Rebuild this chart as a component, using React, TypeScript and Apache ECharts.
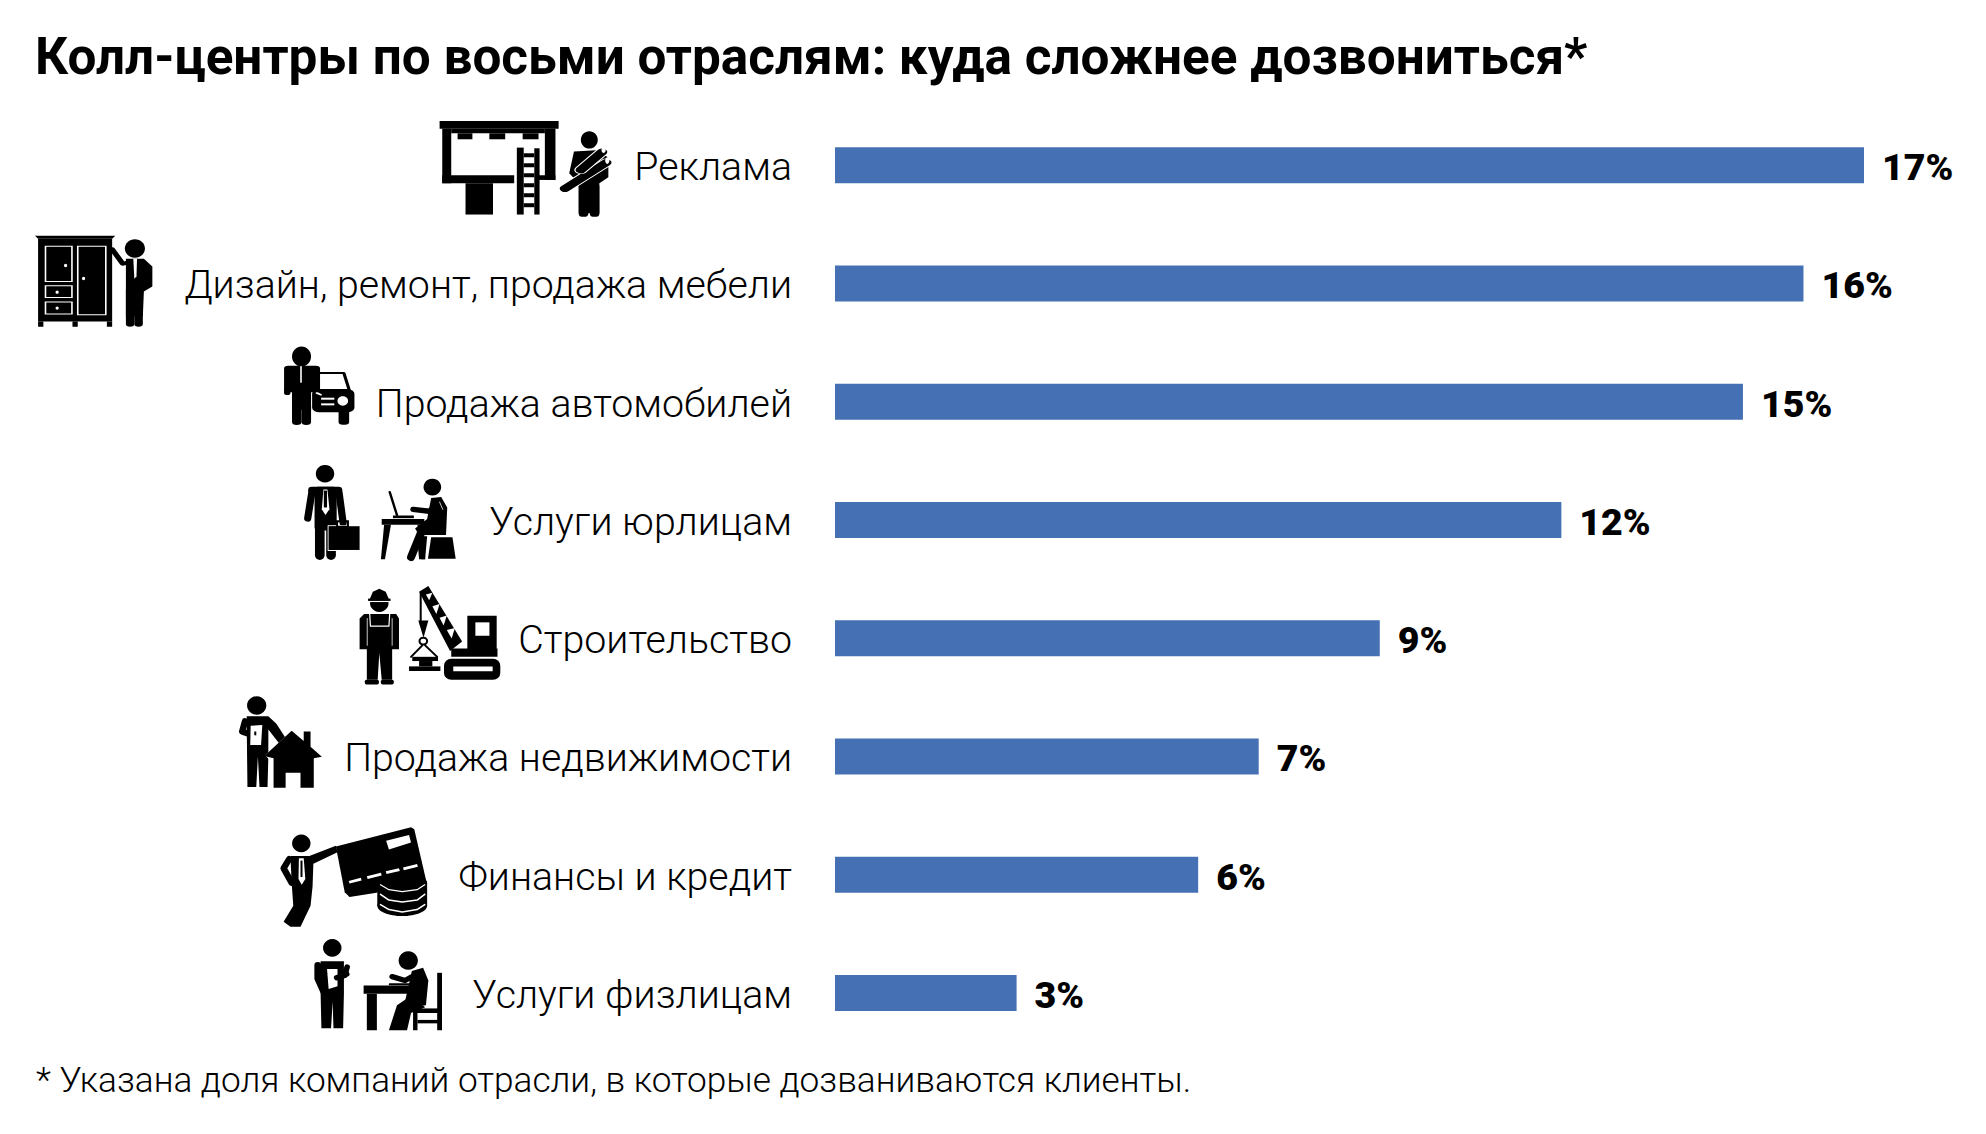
import React, { useEffect, useRef } from "react";
import * as echarts from "echarts";

const categories = [
  "Реклама",
  "Дизайн, ремонт, продажа мебели",
  "Продажа автомобилей",
  "Услуги юрлицам",
  "Строительство",
  "Продажа недвижимости",
  "Финансы и кредит",
  "Услуги физлицам",
];
const shares = [17, 16, 15, 12, 9, 7, 6, 3];
const titleText = "Колл-центры по восьми отраслям: куда сложнее дозвониться*";
const noteText = "* Указана доля компаний отрасли, в которые дозваниваются клиенты.";

const B = "#000";
const W = "#fff";
const c = (cx: number, cy: number, r: number, fill = B) => ({ type: "circle", shape: { cx, cy, r }, style: { fill } });
const e = (cx: number, cy: number, rx: number, ry: number, fill = B) => ({ type: "ellipse", shape: { cx, cy, rx, ry }, style: { fill } });
const r = (x0: number, y0: number, x1: number, y1: number, fill = B, rad = 0) => ({
  type: "rect",
  shape: { x: x0, y: y0, width: x1 - x0, height: y1 - y0, r: rad },
  style: { fill },
});
const box = (x0: number, y0: number, x1: number, y1: number, stroke = W, lineWidth = 3, rad = 0) => ({
  type: "rect",
  shape: { x: x0, y: y0, width: x1 - x0, height: y1 - y0, r: rad },
  style: { fill: "none", stroke, lineWidth },
});
const p = (points: number[][], fill = B) => ({ type: "polygon", shape: { points }, style: { fill } });
const l = (points: number[][], lineWidth: number, stroke = B) => ({
  type: "polyline",
  shape: { points },
  style: { fill: "none", stroke, lineWidth, lineCap: "round", lineJoin: "round" },
});

const billboard = [
  r(831, 93, 1056, 116),
  r(836, 116, 853, 280),
  r(836, 256, 972, 280),
  r(1030, 116, 1050, 270),
  r(1018, 256, 1050, 270),
  r(853, 116, 1030, 130),
  r(865, 130, 893, 148),
  r(925, 130, 955, 148),
  r(988, 130, 1018, 148),
  r(880, 280, 932, 374),
  r(977, 173, 990, 374),
  r(1010, 175, 1020, 374),
  ...[190, 220, 250, 280, 310, 340].map((y) => r(990, y, 1010, y + 12)),
  e(1114, 150, 16, 26),
  p([[1085, 185], [1135, 180], [1150, 205], [1150, 262], [1133, 280], [1133, 370], [1094, 370], [1094, 280], [1076, 250]]),
  l([[1103, 290], [1103, 372]], 18),
  l([[1124, 290], [1124, 372]], 18),
  l([[1068, 296], [1146, 218]], 25, W),
  l([[1068, 296], [1146, 218]], 20),
  l([[1098, 240], [1138, 186]], 25, W),
  l([[1098, 240], [1138, 186]], 20),
  e(1148, 212, 4, 10, W),
  e(1141, 180, 4, 9, W),
];

const wardrobe = [
  p([[66, 438], [218, 438], [212, 447], [72, 447]]),
  r(72, 447, 212, 695),
  r(72, 695, 82, 711),
  r(137, 695, 147, 711),
  r(202, 695, 212, 711),
  box(86, 469, 136, 575),
  box(147, 469, 200, 675),
  box(86, 588, 136, 623),
  box(86, 637, 136, 673),
  e(124, 527, 3, 5, W),
  e(158, 566, 3, 5, W),
  e(108, 607, 3, 5, W),
  e(108, 655, 3, 5, W),
  e(255, 476, 19, 28),
  l([[212, 478], [232, 522], [250, 515]], 11),
  p([[238, 507], [272, 507], [288, 530], [288, 590], [272, 605], [270, 680], [238, 680]]),
  l([[246, 600], [246, 703]], 16),
  l([[262, 600], [262, 703]], 16),
  p([[252, 507], [259, 507], [258, 560], [254, 567]], W),
];

const carMan = [
  e(570, 800, 18, 30),
  r(537, 828, 605, 908, B, 8),
  r(552, 900, 588, 960),
  l([[561, 950], [561, 997]], 18),
  l([[579, 950], [579, 997]], 18),
  l([[569, 830], [569, 878]], 3, W),
  l([[543, 900], [543, 910]], 12),
  l([[605, 850], [650, 850], [660, 900]], 6),
  r(590, 898, 670, 968, B, 14),
  r(640, 960, 660, 1005, B, 8),
  e(648, 934, 10, 14, W),
  r(607, 924, 632, 930, W),
  r(607, 941, 632, 947, W),
  l([[599, 910], [606, 915]], 5, W),
];

const lawyer = [
  c(311, 62, 23),
  r(285, 96, 340, 210, B, 8),
  l([[278, 112], [268, 178]], 18),
  l([[346, 112], [356, 190]], 18),
  l([[278, 105], [345, 105]], 18),
  l([[298, 200], [298, 275]], 24),
  l([[326, 200], [326, 275]], 24),
  p([[307, 103], [317, 103], [322, 155], [312, 170], [303, 155]], W),
  r(308, 106, 316, 150),
  box(319, 198, 398, 262, W, 3),
  r(320, 199, 397, 261),
  box(341, 186, 368, 200, B, 5),
  l([[472, 110], [490, 170]], 6),
  r(480, 171, 532, 178),
  r(452, 180, 558, 195),
  p([[458, 195], [475, 195], [460, 285], [450, 285]]),
  p([[541, 195], [557, 195], [560, 285], [550, 285]], B),
  c(578, 97, 22),
  p([[575, 125], [600, 123], [615, 150], [612, 222], [545, 222], [535, 205], [565, 180]]),
  l([[595, 140], [570, 160], [530, 155]], 14),
  l([[596, 136], [604, 155]], 2, W),
  l([[550, 215], [525, 280]], 20),
  p([[540, 225], [565, 225], [560, 285], [545, 285]]),
  p([[575, 228], [628, 228], [636, 284], [567, 284]]),
];

const builder = [
  p([[420, 395], [430, 370], [446, 362], [462, 370], [472, 395]]),
  c(446, 400, 23),
  r(418, 393, 474, 397, W),
  r(418, 388, 474, 394),
  p([[408, 428], [488, 428], [495, 440], [495, 520], [478, 520], [478, 600], [452, 600], [446, 530], [442, 600], [415, 600], [415, 520], [397, 520], [397, 440]]),
  r(410, 600, 445, 612, B, 4),
  r(450, 600, 482, 612, B, 4),
  l([[422, 425], [424, 460], [470, 460], [472, 425]], 3, W),
  l([[416, 440], [416, 510]], 2, W),
  l([[478, 440], [478, 510]], 2, W),
  p([[545, 370], [568, 355], [652, 500], [622, 525]]),
  p([[562, 377], [570, 392], [578, 373]], W),
  p([[578, 408], [588, 428], [596, 402]], W),
  p([[596, 438], [606, 458], [614, 432]], W),
  p([[614, 470], [626, 492], [634, 465]], W),
  r(665, 433, 738, 530),
  r(685, 450, 720, 485, W),
  r(625, 518, 740, 540),
  r(607, 545, 747, 600, B, 18),
  r(630, 565, 728, 578, W),
  l([[549, 372], [549, 455]], 5),
  p([[543, 445], [568, 445], [556, 490]]),
  box(546, 490, 565, 508, B, 5, 9),
  l([[553, 510], [525, 540]], 5),
  l([[560, 510], [590, 540]], 5),
  r(528, 540, 592, 551),
  r(545, 551, 578, 565),
  r(520, 565, 598, 577),
];

const realtor = [
  c(141, 667, 24),
  p([[116, 695], [170, 695], [190, 715], [215, 755], [200, 770], [170, 730], [170, 800], [168, 880], [148, 880], [144, 800], [140, 880], [118, 880]]),
  l([[112, 708], [105, 735], [132, 745]], 16),
  p([[126, 720], [155, 718], [152, 770], [125, 770]], W),
  r(135, 735, 140, 745),
  p([[162, 797], [228, 733], [258, 757], [258, 735], [275, 735], [275, 772], [303, 799], [293, 808], [228, 748], [172, 808]], W),
  p([[160, 799], [228, 733], [258, 760], [258, 735], [275, 735], [275, 775], [303, 801], [283, 805], [283, 882], [250, 882], [250, 843], [213, 843], [213, 882], [183, 882], [183, 805]]),
];

const banker = [
  c(252, 1027, 23),
  p([[225, 1060], [272, 1060], [338, 1033], [342, 1050], [282, 1080], [280, 1140], [275, 1190], [250, 1245], [225, 1245], [208, 1232], [232, 1190], [228, 1130]]),
  l([[222, 1068], [208, 1092], [228, 1130]], 16),
  p([[246, 1066], [258, 1066], [262, 1120], [253, 1135], [245, 1120]], W),
  r(250, 1072, 255, 1115),
  p([[338, 1035], [525, 985], [533, 990], [565, 1135], [372, 1167], [360, 1155]]),
  p([[463, 1020], [520, 1005], [525, 1025], [470, 1043]], W),
  p([[370, 1125], [400, 1117], [402, 1124], [372, 1132]], W),
  p([[415, 1113], [450, 1104], [452, 1111], [417, 1120]], W),
  p([[462, 1100], [495, 1092], [497, 1099], [464, 1107]], W),
  p([[505, 1090], [540, 1081], [542, 1088], [507, 1097]], W),
  e(503, 1172, 66, 48, W),
  r(441, 1130, 565, 1190),
  e(503, 1190, 62, 27),
  e(503, 1130, 62, 22),
  l([[449, 1160], [470, 1175], [503, 1180], [540, 1175], [559, 1160]], 4, W),
  l([[449, 1187], [470, 1200], [503, 1206], [540, 1200], [559, 1187]], 4, W),
  l([[449, 1135], [470, 1148], [503, 1153], [540, 1148], [559, 1135]], 3, W),
];

const client = [
  c(329, 1300, 23),
  p([[300, 1335], [358, 1335], [358, 1420], [356, 1510], [332, 1510], [330, 1440], [326, 1510], [302, 1510], [300, 1420]]),
  l([[293, 1345], [293, 1380], [308, 1415]], 17),
  l([[366, 1350], [360, 1372], [335, 1380]], 14),
  p([[316, 1355], [342, 1355], [342, 1400], [320, 1407]], W),
  l([[340, 1378], [365, 1368]], 14),
  c(518, 1333, 24),
  r(407, 1398, 525, 1420),
  r(415, 1420, 440, 1515),
  l([[472, 1395], [520, 1395]], 5),
  l([[478, 1375], [510, 1385], [545, 1365]], 14),
  p([[527, 1360], [555, 1352], [568, 1385], [562, 1450], [520, 1455], [510, 1440]]),
  p([[525, 1425], [560, 1455], [525, 1470], [515, 1515], [470, 1515], [490, 1450]]),
  r(590, 1365, 602, 1515),
  r(530, 1458, 602, 1470),
  r(530, 1470, 541, 1515),
  r(541, 1488, 592, 1497),
];

const groupOf = (x: number, y: number, sx: number, sy: number, children: any[]) => ({
  type: "group",
  x,
  y,
  scaleX: sx,
  scaleY: sy,
  silent: true,
  children,
});

export default function App() {
  const ref = useRef<HTMLDivElement>(null);
  useEffect(() => {
    const chart = echarts.init(ref.current!, undefined, { renderer: "svg" });
    chart.setOption({
      animation: false,
      backgroundColor: "#fff",
      title: [
        {
          text: titleText,
          left: 35,
          top: 31,
          padding: 0,
          textStyle: { fontFamily: "Roboto", fontWeight: 700, fontSize: 51.3, color: "#000" },
        },
        {
          text: noteText,
          left: 36,
          top: 1062,
          padding: 0,
          textStyle: { fontFamily: "Roboto", fontWeight: 300, fontSize: 35.2, color: "#000" },
        },
      ],
      grid: { left: 835, top: 106, width: 1029, height: 946, containLabel: false },
      xAxis: { type: "value", min: 0, max: 17, show: false },
      yAxis: {
        type: "category",
        inverse: true,
        data: categories,
        axisLine: { show: false },
        axisTick: { show: false },
        axisLabel: {
          margin: 43,
          formatter: (v: string) => `{t|${v}}`,
          rich: {
            t: {
              padding: [4, 0, 0, 0],
              fontFamily: "Roboto",
              fontWeight: 300,
              fontSize: 39.3,
              color: "#000",
            },
          },
        },
      },
      series: [
        {
          type: "bar",
          data: shares,
          barWidth: 36,
          itemStyle: { color: "#4570b4" },
          label: {
            show: true,
            position: "right",
            distance: 18,
            offset: [0, 2],
            formatter: "{c}%",
            fontFamily: "Roboto",
            fontWeight: 900,
            fontSize: 37.5,
            color: "#000",
          },
        },
      ],
      graphic: [
        groupOf(0, 90, 830 / 1568, 1 / 3, [...billboard, ...wardrobe, ...carMan]),
        groupOf(200, 450, 630 / 1568, 600 / 1568, [...lawyer, ...builder, ...realtor, ...banker, ...client]),
      ],
    });
    return () => chart.dispose();
  }, []);
  return <div ref={ref} style={{ position: "absolute", left: 0, top: 0, width: 1986, height: 1134 }} />;
}
